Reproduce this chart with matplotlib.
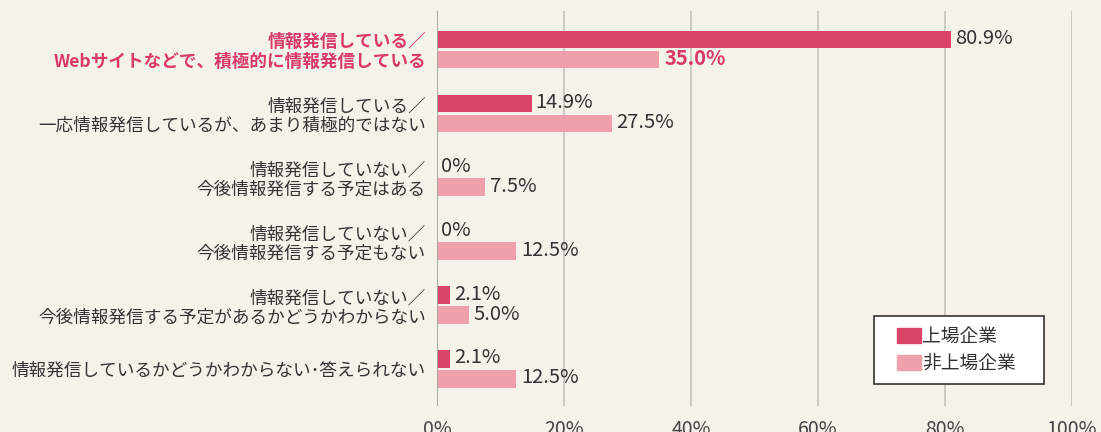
import matplotlib.pyplot as plt
import numpy as np
from matplotlib.patches import Patch, Rectangle

plt.rcParams['font.family'] = ['Noto Sans CJK JP', 'DejaVu Sans']

categories = [
    "情報発信している／\nWebサイトなどで、積極的に情報発信している",
    "情報発信している／\n一応情報発信しているが、あまり積極的ではない",
    "情報発信していない／\n今後情報発信する予定はある",
    "情報発信していない／\n今後情報発信する予定もない",
    "情報発信していない／\n今後情報発信する予定があるかどうかわからない",
    "情報発信しているかどうかわからない･答えられない",
]
listed = [80.9, 14.9, 0, 0, 2.1, 2.1]
unlisted = [35.0, 27.5, 7.5, 12.5, 5.0, 12.5]
series_names = ["上場企業", "非上場企業"]
xticks = [0, 20, 40, 60, 80, 100]

BG = "#f5f2ea"
DARK = "#da446b"
LIGHT = "#efa0ab"
ACCENT = "#d93a6a"
TEXT = "#333333"

fig = plt.figure(figsize=(11.01, 4.32), dpi=100, facecolor=BG)
ax = fig.add_axes([437 / 1101, 26 / 432, 635 / 1101, 395 / 432])
ax.set_facecolor(BG)

y = np.arange(len(categories))
off = 0.1565
h = 0.274

for x in xticks[1:]:
    ax.axvline(x, color="#c4c2bd", lw=1.2, zorder=0)
ax.axvline(0, color="#a8a6a2", lw=1.4, zorder=3)

ax.barh(y - off, listed, height=h, color=DARK, zorder=2)
ax.barh(y + off, unlisted, height=h, color=LIGHT, zorder=2)


def fmt(v):
    return "0%" if v == 0 else "%.1f%%" % v


for i in range(len(categories)):
    ax.annotate(fmt(listed[i]), (listed[i], y[i] - off), xytext=(4, 1),
                textcoords="offset pixels", va="center", ha="left",
                fontsize=14.5, color=TEXT)
    c = ACCENT if i == 0 else TEXT
    w = "bold" if i == 0 else "normal"
    ax.annotate(fmt(unlisted[i]), (unlisted[i], y[i] + off), xytext=(5, 1),
                textcoords="offset pixels", va="center", ha="left",
                fontsize=14.5, color=c, fontweight=w)

ax.set_xlim(0, 100)
ax.set_ylim(5.58, -0.6)
ax.set_xticks(xticks)
ax.set_xticklabels(["%d%%" % t for t in xticks], fontsize=14, color="#444444")
ax.set_yticks(y)
ax.set_yticklabels(categories, fontsize=12.7, color=TEXT, linespacing=1.12)
ax.get_yticklabels()[0].set_color(ACCENT)
ax.get_yticklabels()[0].set_fontweight("bold")
ax.tick_params(axis="x", length=0, pad=9.5)
ax.tick_params(axis="y", length=0, pad=8)
for s in ax.spines.values():
    s.set_visible(False)

# legend box
fig.patches.append(Rectangle((874 / 1101, 48 / 432), 170 / 1101, 68 / 432,
                             transform=fig.transFigure, facecolor="white",
                             edgecolor=TEXT, lw=1.2, zorder=5))
handles = [Patch(color=DARK), Patch(color=LIGHT)]
leg = fig.legend(handles, series_names, loc="center left",
                 bbox_to_anchor=(897 / 1101, (432 - 350) / 432),
                 frameon=False, fontsize=13.5, handlelength=1.3,
                 handleheight=0.85, handletextpad=0.05, labelspacing=0.3,
                 borderpad=0, borderaxespad=0)
for t in leg.get_texts():
    t.set_color(TEXT)
leg.set_zorder(6)

fig.savefig("out.png", dpi=100, facecolor=BG)
